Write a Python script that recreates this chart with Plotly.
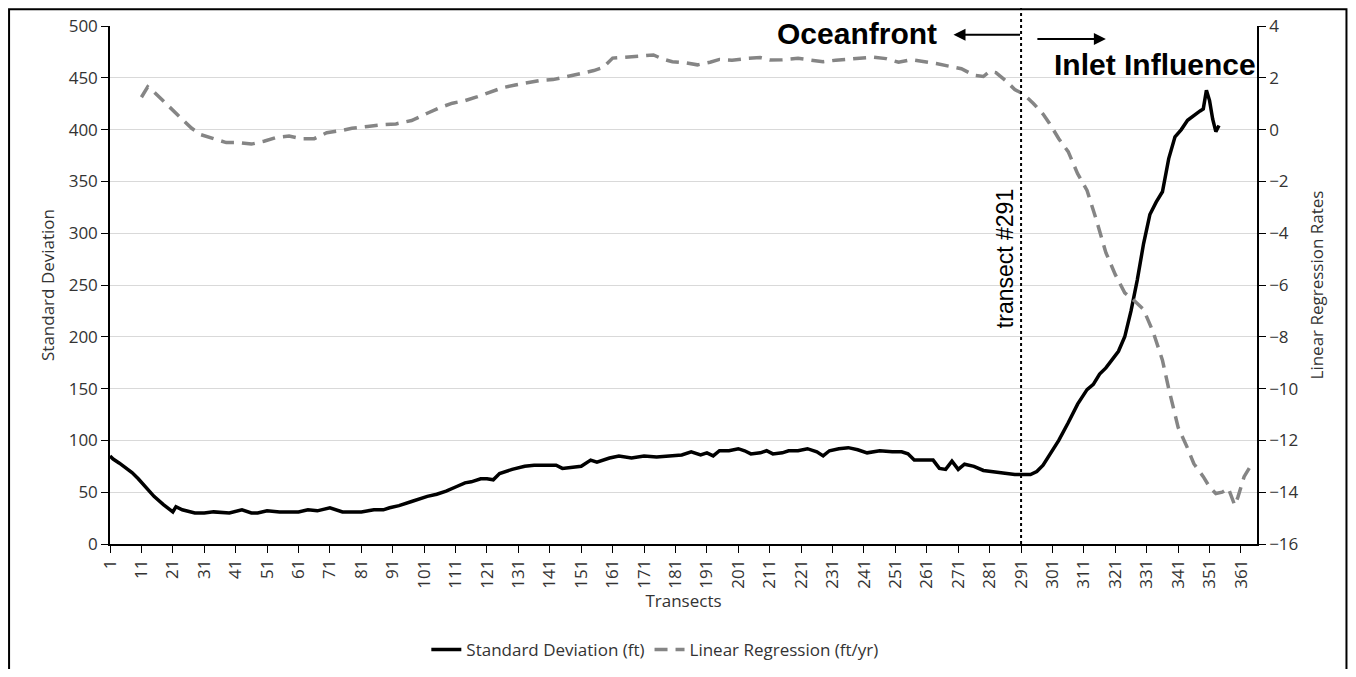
import plotly.graph_objects as go

# Standard deviation (ft) - left axis
sd_transect = [1, 2, 4, 6, 8, 10, 12, 15, 18, 21, 22, 24, 28, 31, 34, 37, 39, 43, 46, 48,
               51, 55, 59, 61, 64, 67, 71, 73, 75, 78, 81, 85, 88, 90, 93, 97, 102, 105, 108,
               111, 114, 116, 119, 121, 123, 125, 129, 133, 136, 140, 143, 145, 148, 151, 154,
               156, 160, 163, 167, 171, 175, 179, 183, 186, 189, 191, 193, 195, 198, 201, 203,
               205, 208, 210, 212, 215, 217, 220, 223, 226, 228, 230, 233, 236, 239, 242, 246,
               250, 253, 255, 257, 260, 263, 265, 267, 269, 271, 273, 276, 279, 284, 289, 294,
               296, 298, 300, 303, 306, 309, 312, 314, 316, 318, 320, 322, 324, 326, 328, 330,
               332, 334, 336, 338, 340, 342, 344, 346, 348, 349, 350, 351, 352, 353, 354]
sd_value = [85, 82, 78, 74, 69, 63, 56, 46, 38, 31, 36, 33, 30, 30, 31, 30, 30, 33, 30, 30,
            32, 31, 31, 31, 33, 32, 35, 33, 31, 31, 31, 33, 33, 35, 37, 41, 46, 48, 51,
            55, 59, 60, 63, 63, 62, 68, 72, 75, 76, 76, 76, 73, 74, 75, 81,
            79, 83, 85, 83, 85, 84, 85, 86, 89, 86, 88, 85, 90, 90, 92, 90,
            87, 88, 90, 87, 88, 90, 90, 92, 89, 85, 90, 92, 93, 91, 88, 90,
            89, 89, 87, 81, 81, 81, 73, 72, 80, 72, 77, 75, 71, 69, 67, 67,
            70, 76, 85, 100, 117, 135, 149, 154, 164, 170, 178, 186, 200, 225, 255, 290,
            318, 330, 340, 372, 393, 400, 409, 414, 418, 420, 438, 428, 410, 398, 404]

# Linear regression (ft/yr) - right axis
lr_transect = [11, 13, 15, 18, 21, 24, 27, 30, 34, 38, 42, 46, 50, 54, 58, 62, 66, 70, 74, 78,
               83, 87, 92, 97, 102, 106, 110, 114, 118, 122, 126, 130, 134, 138, 142, 146, 151,
               155, 158, 161, 164, 168, 171, 174, 177, 180, 184, 188, 192, 195, 199, 204, 208,
               211, 215, 220, 224, 228, 232, 236, 240, 244, 248, 252, 256, 260, 264, 268, 272,
               276, 279, 281, 283, 286, 289, 292, 295, 298, 300, 303, 306, 309, 312, 315, 318,
               321, 324, 327, 330, 333, 336, 338, 341, 344, 346, 349, 351, 353, 355, 357, 359,
               360, 362, 364]
lr_value = [1.25, 1.65, 1.45, 1.1, 0.75, 0.4, 0.05, -0.2, -0.35, -0.5, -0.5, -0.56, -0.45, -0.3,
            -0.25, -0.35, -0.35, -0.12, -0.05, 0.05, 0.12, 0.18, 0.22, 0.35, 0.63, 0.85, 1.02,
            1.12, 1.27, 1.45, 1.62, 1.72, 1.82, 1.9, 1.93, 2.05, 2.17, 2.28, 2.4, 2.76, 2.78,
            2.8, 2.85, 2.88, 2.72, 2.62, 2.58, 2.5, 2.6, 2.71, 2.68, 2.75, 2.78, 2.69, 2.7,
            2.75, 2.68, 2.62, 2.68, 2.72, 2.78, 2.8, 2.74, 2.6, 2.7, 2.63, 2.55, 2.45, 2.35,
            2.1, 2.05, 2.25, 2.2, 1.9, 1.55, 1.35, 1.0, 0.6, 0.25, -0.35, -0.85, -1.7, -2.35,
            -3.5, -4.75, -5.6, -6.3, -6.6, -6.95, -7.8, -8.9, -10.0, -11.5, -12.3, -12.9,
            -13.4, -13.8, -14.05, -14.0, -13.85, -14.5, -14.2, -13.4, -13.0]

x_ticks = list(range(1, 362, 10))
marker_transect = 291

TICK_FONT = dict(family="Open Sans", size=17, color="#333333")
TITLE_FONT = dict(family="Open Sans", size=17, color="#333333")

fig = go.Figure()
fig.add_trace(go.Scatter(x=sd_transect, y=sd_value, mode="lines", name="Standard Deviation (ft)",
                         line=dict(color="black", width=3.5)))
fig.add_trace(go.Scatter(x=lr_transect, y=lr_value, mode="lines", name="Linear Regression (ft/yr)",
                         yaxis="y2", line=dict(color="#858585", width=3.5, dash="13px,8px")))

# dotted marker line at transect #291
fig.add_shape(type="line", xref="x", yref="paper", x0=marker_transect, x1=marker_transect,
              y0=0, y1=1.037, line=dict(color="black", width=2, dash="dot"))
# outer frame (bottom edge falls outside the page)
fig.add_shape(type="rect", xref="paper", yref="paper", x0=-0.0880, x1=1.0780, y0=-0.4, y1=1.0325,
              line=dict(color="black", width=2))

fig.add_annotation(x=marker_transect, xref="x", xanchor="right", xshift=-1, y=275, yref="y",
                   text="transect #291", textangle=-90, showarrow=False,
                   font=dict(family="Liberation Sans", size=23, color="black"))

ann_font = dict(family="Liberation Sans", size=30, color="black")
fig.add_annotation(x=marker_transect - 26, xref="x", xanchor="right", y=0.986, yref="paper",
                   yanchor="middle", text="<b>Oceanfront</b>", showarrow=False, font=ann_font)
fig.add_annotation(x=marker_transect + 10, xref="x", xanchor="left", y=0.925, yref="paper",
                   yanchor="middle", text="<b>Inlet Influence</b>", showarrow=False, font=ann_font)
# arrows
fig.add_annotation(x=marker_transect - 21.5, y=0.983, xref="x", yref="paper",
                   ax=68, ay=0, text="", showarrow=True, arrowhead=2, arrowsize=1.2,
                   arrowwidth=2, arrowcolor="black")
fig.add_annotation(x=marker_transect + 27, y=0.975, xref="x", yref="paper",
                   ax=-70, ay=0, text="", showarrow=True, arrowhead=2, arrowsize=1.2,
                   arrowwidth=2, arrowcolor="black")

# page body keeps an 8px margin, so the figure is 16px smaller and margins shifted
fig.update_layout(
    width=1340, height=661,
    margin=dict(l=102, r=91, t=18, b=125),
    paper_bgcolor="white", plot_bgcolor="white",
    showlegend=True,
    legend=dict(orientation="h", x=0.475, xanchor="center", y=0.029, yref="container",
                yanchor="middle", font=dict(family="Open Sans", size=17, color="#333333"),
                bgcolor="rgba(0,0,0,0)"),
    xaxis=dict(range=[1, 366.1], tickvals=x_ticks, tickangle=-90, ticks="outside", ticklen=7,
               tickcolor="black", showline=True, linecolor="black", linewidth=1.5,
               showgrid=False, zeroline=False, tickfont=TICK_FONT, automargin=False,
               title=dict(text="Transects", font=TITLE_FONT, standoff=4)),
    yaxis=dict(range=[0, 500], dtick=50, ticks="outside", ticklen=7, tickcolor="black",
               showline=True, linecolor="black", linewidth=1.5, gridcolor="#d9d9d9",
               zeroline=False, tickfont=TICK_FONT, automargin=False,
               title=dict(text="Standard Deviation", font=TITLE_FONT, standoff=10)),
    yaxis2=dict(range=[-16, 4], dtick=2, overlaying="y", side="right", ticks="outside",
                ticklen=7, tickcolor="black", showline=True, linecolor="black", linewidth=1.5,
                showgrid=False, zeroline=False, tickfont=TICK_FONT, automargin=False,
                title=dict(text="Linear Regression Rates", font=TITLE_FONT, standoff=14)),
)

fig.write_html("out.html")
